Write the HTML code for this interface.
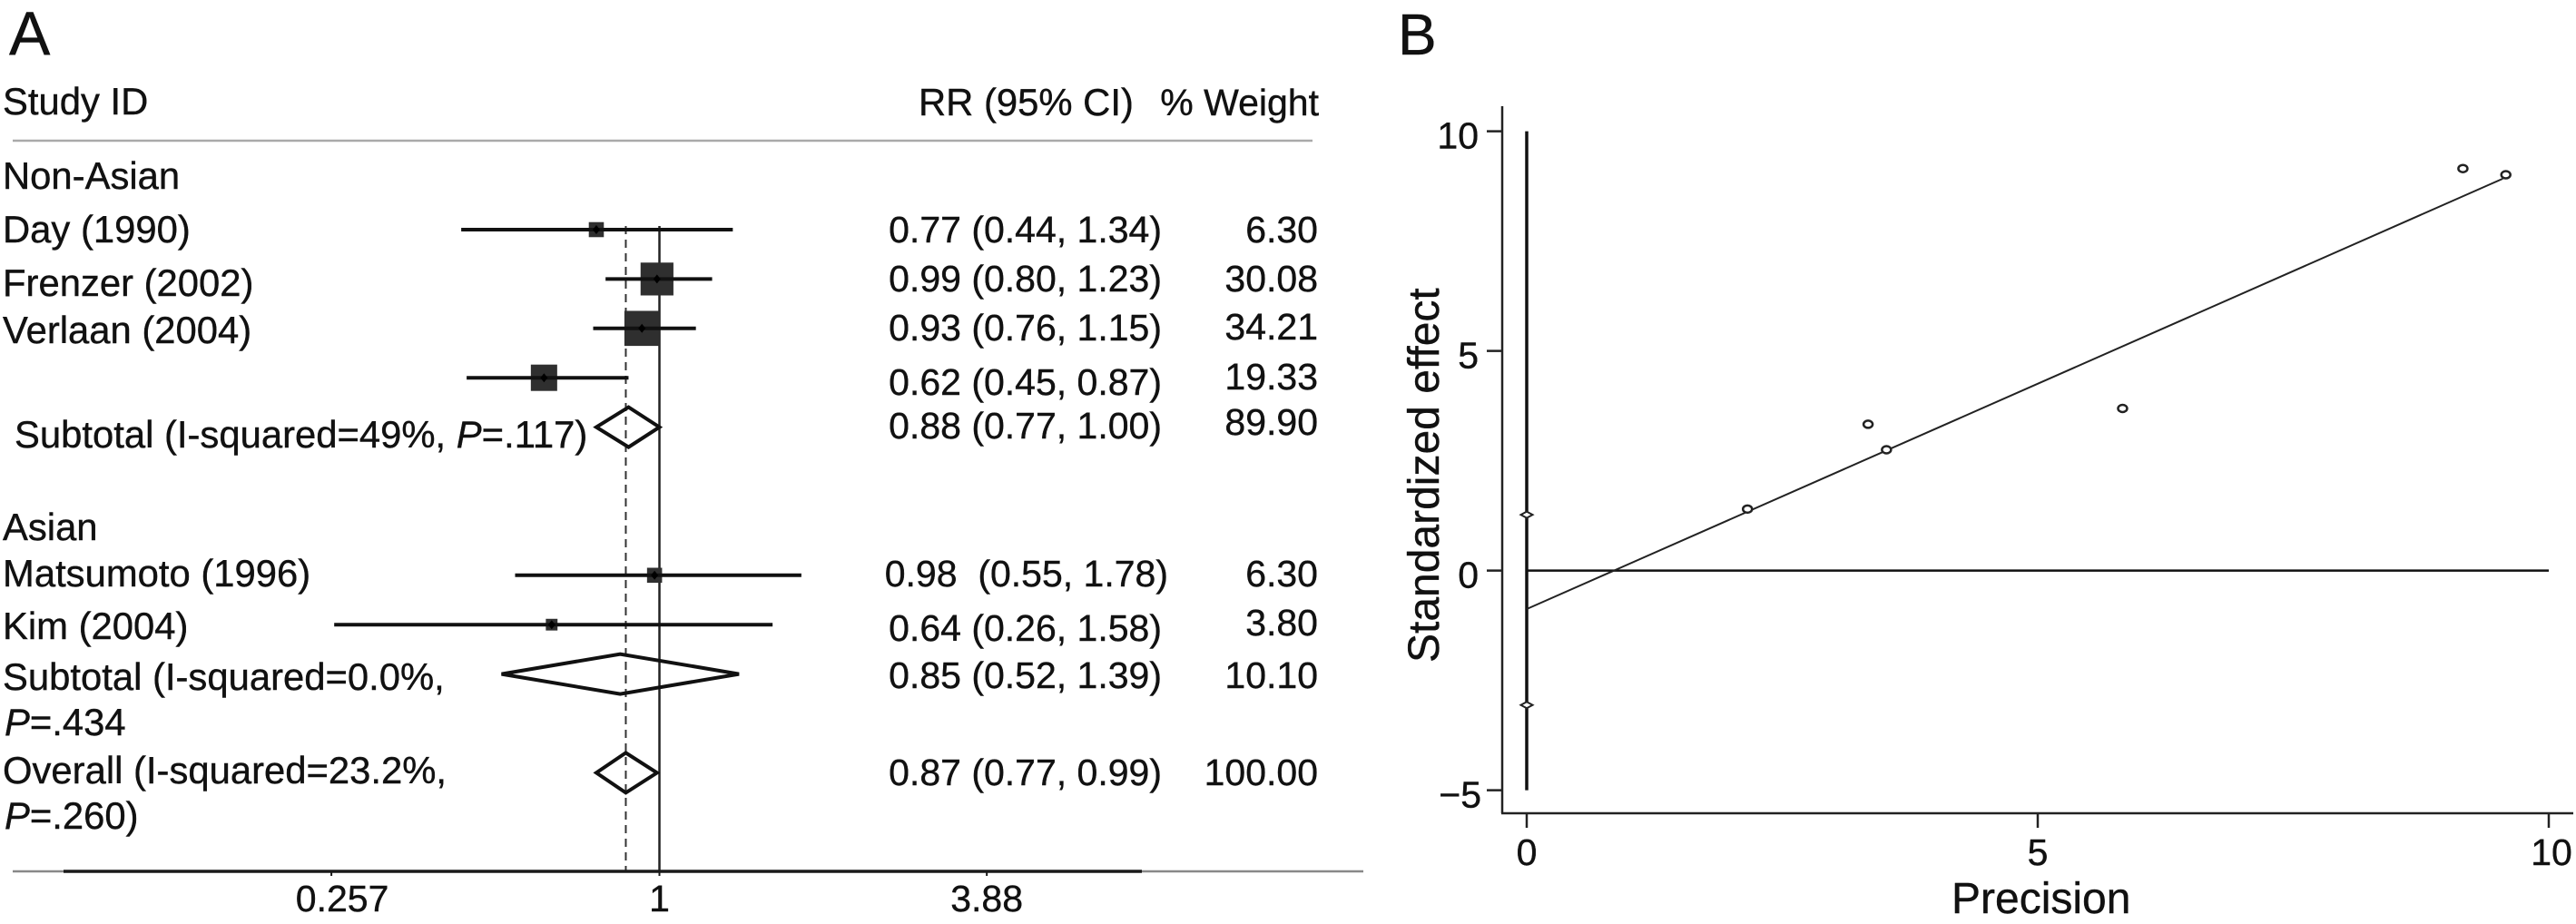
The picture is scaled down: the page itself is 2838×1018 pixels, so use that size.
<!DOCTYPE html>
<html lang="en">
<head>
<meta charset="utf-8">
<title>Forest plot and Galbraith plot</title>
<style>
html,body{margin:0;padding:0;background:#fff;}
#figure{display:block;width:2838px;height:1018px;background:#fff;}
text{font-family:"Liberation Sans",Arial,sans-serif;fill:#111;font-size:41px;stroke:#111;stroke-width:0.4px;}
.lab{font-size:41.8px;}
.big{font-size:48px;}
.tick{font-size:41px;}
.r{text-anchor:end;}
</style>
</head>
<body>
<svg id="figure" xmlns="http://www.w3.org/2000/svg" width="2838" height="1018" viewBox="0 0 2838 1018">
  <g id="panel-a">
    <text x="10" y="60" style="font-size:68px">A</text>
    <text x="3" y="126" class="lab">Study ID</text>
    <text x="1012" y="127" class="lab">RR (95% CI)</text>
    <text x="1453" y="127" class="r">% Weight</text>
    <line x1="14" y1="155" x2="1446" y2="155" stroke="#aaa" stroke-width="2.5"/>

    <text x="3" y="208" class="lab">Non-Asian</text>
    <text x="3" y="267" class="lab">Day (1990)</text>
    <text x="3" y="326" class="lab">Frenzer (2002)</text>
    <text x="3" y="378" class="lab">Verlaan (2004)</text>
    <text x="16" y="493" class="lab">Subtotal (I-squared=49%, <tspan font-style="italic">P</tspan>=.117)</text>
    <text x="3" y="595" class="lab">Asian</text>
    <text x="3" y="646" class="lab">Matsumoto (1996)</text>
    <text x="3" y="704" class="lab">Kim (2004)</text>
    <text x="3" y="760" class="lab">Subtotal (I-squared=0.0%,</text>
    <text x="5" y="810" class="lab"><tspan font-style="italic">P</tspan>=.434</text>
    <text x="3" y="863" class="lab">Overall (I-squared=23.2%,</text>
    <text x="5" y="913" class="lab"><tspan font-style="italic">P</tspan>=.260)</text>

    <g>
      <text x="1280" y="267" class="r">0.77 (0.44, 1.34)</text>
      <text x="1280" y="321" class="r">0.99 (0.80, 1.23)</text>
      <text x="1280" y="375" class="r">0.93 (0.76, 1.15)</text>
      <text x="1280" y="435" class="r">0.62 (0.45, 0.87)</text>
      <text x="1280" y="483" class="r">0.88 (0.77, 1.00)</text>
      <text x="1287" y="646" class="r" xml:space="preserve" style="white-space:pre">0.98  (0.55, 1.78)</text>
      <text x="1280" y="706" class="r">0.64 (0.26, 1.58)</text>
      <text x="1280" y="758" class="r">0.85 (0.52, 1.39)</text>
      <text x="1280" y="865" class="r">0.87 (0.77, 0.99)</text>
    </g>
    <g>
      <text x="1452" y="267" class="r">6.30</text>
      <text x="1452" y="321" class="r">30.08</text>
      <text x="1452" y="374" class="r">34.21</text>
      <text x="1452" y="429" class="r">19.33</text>
      <text x="1452" y="479" class="r">89.90</text>
      <text x="1452" y="646" class="r">6.30</text>
      <text x="1452" y="700" class="r">3.80</text>
      <text x="1452" y="758" class="r">10.10</text>
      <text x="1452" y="865" class="r">100.00</text>
    </g>
    <line x1="14" y1="960" x2="1502" y2="960" stroke="#888" stroke-width="2.5"/>
    <g id="forest-marks"></g>
  </g>
  <g id="panel-b">
    <text x="1540" y="60" style="font-size:64px">B</text>
    <text transform="translate(1585,730) rotate(-90)" class="big">Standardized effect</text>
    <text x="2150" y="1006" class="big">Precision</text>
    <line x1="1655" y1="117" x2="1655" y2="896" stroke="#222" stroke-width="2.5"/>
    <line x1="1654" y1="896" x2="2835" y2="896" stroke="#222" stroke-width="2.5"/>
    <g id="galbraith-marks"></g>
  </g>
</svg>
<script>
// Forest plot data
const studyRR = [0.77, 0.99, 0.93, 0.62, 0.98, 0.64];
const studyLow = [0.44, 0.80, 0.76, 0.45, 0.55, 0.26];
const studyHigh = [1.34, 1.23, 1.15, 0.87, 1.78, 1.58];
const studyWeight = [6.30, 30.08, 34.21, 19.33, 6.30, 3.80];
const studyRow = [0, 1, 2, 3, 7, 8];
const pooledRR = [0.88, 0.85, 0.87];
const pooledLow = [0.77, 0.52, 0.77];
const pooledHigh = [1.00, 1.39, 0.99];
const pooledRow = [4, 9, 11];
const forestTicks = [0.257, 1, 3.88];
const forestNull = [1];
const overallEstimate = [0.87];

// Galbraith plot data
const precision = [0, 0, 2.16, 3.34, 3.52, 5.83, 9.16, 9.58];
const standardizedEffect = [1.27, -3.06, 1.40, 3.33, 2.75, 3.69, 9.15, 9.01];
const fitPrecision = [0, 9.55];
const fitEffect = [-0.876, 8.92];
const xTicks = [0, 5, 10];
const yTicks = [10, 5, 0, -5];
const referenceEffect = [0];
const referencePrecision = [0, 10];
const verticalEffect = [-5, 10];

// Axis functions
const forestX = v => 726.5 + 266 * Math.log(v);
const forestY = r => 253 + 54.4 * r;
const galX = v => 1682 + 112.6 * v;
const galY = v => 628.6 - 48.4 * v;

const NS = 'http://www.w3.org/2000/svg';
function make(parent, tag, attrs, text) {
  const el = document.createElementNS(NS, tag);
  for (const k in attrs) el.setAttribute(k, attrs[k]);
  if (text !== undefined) el.textContent = text;
  parent.appendChild(el);
  return el;
}
const dark = '#1a1a1a';
const fm = document.getElementById('forest-marks');
const gm = document.getElementById('galbraith-marks');

// Forest reference lines
const nullLine = make(fm, 'line', {x1: forestX(forestNull[0]), x2: forestX(forestNull[0]), y1: 249, y2: 960, stroke: '#222', 'stroke-width': 2.5});


const overallLine = make(fm, 'line', {x1: forestX(overallEstimate[0]), x2: forestX(overallEstimate[0]), y1: 249, y2: 960, stroke: '#333', 'stroke-width': 2, 'stroke-dasharray': '9 6'});



// Forest axis
const axisDark = make(fm, 'line', {x1: 70, x2: 1258, y1: 960, y2: 960, stroke: '#1a1a1a', 'stroke-width': 3.5});


forestTicks.forEach((v, i) => {
  const tick = make(fm, 'line', {x1: forestX(v), x2: forestX(v), y1: 960, y2: 965, stroke: dark, 'stroke-width': 2});
  
  
  const shift = i === 0 ? 12 : 0;
  const label = make(fm, 'text', {x: forestX(v) + shift, y: 1004, 'text-anchor': 'middle'}, String(v));
  
  
});

// Study CI lines and weight squares
studyRR.forEach((rr, i) => {
  const y = forestY(studyRow[i]);
  const cx = forestX(rr);
  const side = Math.sqrt(studyWeight[i]) * 6.6;
  const sq = make(fm, 'rect', {x: cx - side / 2, y: y - side / 2, width: side, height: side, fill: '#2f2f2f'});
  
  
  const ci = make(fm, 'line', {x1: forestX(studyLow[i]), x2: forestX(studyHigh[i]) + 3, y1: y, y2: y, stroke: '#111', 'stroke-width': 4});
  
  
  const dot = make(fm, 'polygon', {points: [[cx - 4, y], [cx, y - 5], [cx + 4, y], [cx, y + 5]].join(' '), fill: '#000'});
  
  
});

// Pooled diamonds
pooledRR.forEach((rr, i) => {
  const y = forestY(pooledRow[i]);
  const pts = [[forestX(pooledLow[i]), y], [forestX(rr), y - 22], [forestX(pooledHigh[i]), y], [forestX(rr), y + 22]];
  const d = make(fm, 'polygon', {points: pts.join(' '), fill: 'none', stroke: '#111', 'stroke-width': 4});
  
  
});

// Galbraith axes
yTicks.forEach(v => {
  const tick = make(gm, 'line', {x1: 1638, x2: 1655, y1: galY(v), y2: galY(v), stroke: '#222', 'stroke-width': 2.5});
  
  
  const label = make(gm, 'text', {x: v < 0 ? 1632 : 1629, y: galY(v) + 19, 'text-anchor': 'end', class: 'tick'}, String(v).replace('-', '\u2212'));
  
  
});
xTicks.forEach(v => {
  const tick = make(gm, 'line', {x1: galX(v), x2: galX(v), y1: 896, y2: 912, stroke: '#222', 'stroke-width': 2.5});
  
  
  const label = make(gm, 'text', {x: galX(v) + (v === 10 ? 3 : 0), y: 953, 'text-anchor': 'middle', class: 'tick'}, String(v));
  
  
});

// Galbraith reference lines and fit
const vertical = make(gm, 'line', {x1: galX(0), x2: galX(0), y1: galY(verticalEffect[1]), y2: galY(verticalEffect[0]), stroke: '#111', 'stroke-width': 3.5});


const zeroLine = make(gm, 'line', {x1: galX(referencePrecision[0]), x2: galX(referencePrecision[1]), y1: galY(referenceEffect[0]), y2: galY(referenceEffect[0]), stroke: '#111', 'stroke-width': 2.5});


const fit = make(gm, 'line', {x1: galX(fitPrecision[0]), x2: galX(fitPrecision[1]), y1: galY(fitEffect[0]), y2: galY(fitEffect[1]), stroke: '#222', 'stroke-width': 2});



// Galbraith points
precision.forEach((p, i) => {
  const cx = galX(p);
  const cy = galY(standardizedEffect[i]);
  const rx = p === 0 ? 6.5 : 5;
  const ry = p === 0 ? 3.5 : 4;
  const pt = p === 0
    ? make(gm, 'polygon', {points: [[cx - rx, cy], [cx, cy - ry], [cx + rx, cy], [cx, cy + ry]].join(' '), fill: '#fff', stroke: '#222', 'stroke-width': 2})
    : make(gm, 'ellipse', {cx: cx, cy: cy, rx: rx, ry: ry, fill: '#fff', stroke: '#222', 'stroke-width': 2.5});
  
  
});
</script>
</body>
</html>
